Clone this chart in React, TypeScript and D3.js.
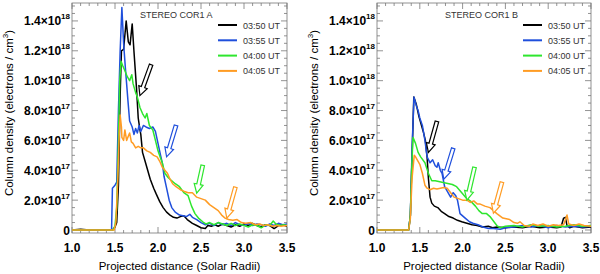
import React from "react";
import * as d3 from "d3";

// valores en unidades de 1e17 electrones / cm^2, x en radios solares
const times = ["03:50 UT", "03:55 UT", "04:00 UT", "04:05 UT"];
const colors = ["#000000", "#1f4fdc", "#2ee62e", "#ff9c24"];

const corA_0350 = [[1.0,0],[1.1,0.05],[1.2,0],[1.47,0],[1.50,0.2],[1.52,0.5],[1.54,3],[1.56,9],[1.575,12.0],[1.60,12.1],[1.63,14.0],[1.655,12.6],[1.675,12.4],[1.70,13.8],[1.72,12.0],[1.75,9.5],[1.77,7.5],[1.79,6.7],[1.80,6.4],[1.82,5.2],[1.85,4.6],[1.88,4.0],[1.91,3.4],[1.95,2.8],[1.98,2.4],[2.02,1.9],[2.06,1.5],[2.10,1.2],[2.14,1.0],[2.18,0.85],[2.22,0.8],[2.26,0.9],[2.30,0.95],[2.34,0.7],[2.40,0.45],[2.45,0.3],[2.50,0.15],[2.55,0.1],[2.58,0.3],[2.62,0.25],[2.66,0.35],[2.70,0.25],[2.75,0.4],[2.80,0.3],[2.85,0.2],[2.90,0.35],[2.95,0.25],[3.0,0.4],[3.05,0.3],[3.1,0.45],[3.15,0.3],[3.2,0.2],[3.25,0.35],[3.3,0.3],[3.35,0.1],[3.4,0.3],[3.45,0.35],[3.5,0.25]];
const corA_0355 = [[1.0,0],[1.2,0],[1.46,0],[1.47,2.8],[1.50,3.0],[1.52,3.2],[1.54,8],[1.56,12],[1.58,14.9],[1.60,12.5],[1.62,10.9],[1.65,8.7],[1.67,7.3],[1.70,6.9],[1.72,6.4],[1.74,6.8],[1.76,6.5],[1.78,7.0],[1.80,6.6],[1.83,7.0],[1.86,6.9],[1.90,6.8],[1.94,6.9],[1.97,6.6],[2.00,5.8],[2.03,5.0],[2.05,4.5],[2.07,3.6],[2.10,2.8],[2.13,2.0],[2.16,1.5],[2.20,1.2],[2.25,1.0],[2.29,0.95],[2.33,0.9],[2.37,1.05],[2.40,0.85],[2.45,0.7],[2.50,0.5],[2.55,0.35],[2.60,0.45],[2.65,0.3],[2.70,0.5],[2.75,0.35],[2.8,0.45],[2.85,0.3],[2.9,0.5],[2.95,0.35],[3.0,0.3],[3.05,0.45],[3.1,0.3],[3.15,0.4],[3.2,0.35],[3.25,0.25],[3.3,0.4],[3.35,0.3],[3.4,0.45],[3.45,0.35],[3.5,0.4]];
const corA_0400 = [[1.0,0],[1.2,0],[1.48,0],[1.50,0.3],[1.52,1.5],[1.54,6],[1.555,10],[1.57,11.3],[1.59,11.0],[1.62,10.6],[1.64,10.3],[1.67,10.0],[1.695,10.4],[1.71,9.8],[1.74,9.2],[1.76,8.9],[1.79,8.2],[1.82,7.8],[1.85,7.5],[1.87,7.8],[1.90,7.0],[1.94,6.7],[1.97,6.0],[2.00,5.3],[2.03,4.8],[2.05,4.5],[2.08,3.8],[2.12,3.5],[2.16,3.3],[2.20,3.1],[2.25,2.9],[2.30,2.5],[2.35,2.3],[2.39,1.6],[2.43,1.1],[2.47,0.8],[2.52,0.55],[2.56,0.4],[2.60,0.5],[2.65,0.35],[2.70,0.5],[2.75,0.4],[2.80,0.3],[2.85,0.45],[2.9,0.3],[2.95,0.4],[3.0,0.3],[3.05,0.2],[3.1,0.35],[3.15,0.3],[3.2,0.15],[3.25,0.35],[3.3,0.3],[3.34,0.6],[3.37,0.4],[3.42,0.3],[3.46,0.35],[3.5,0.3]];
const corA_0405 = [[1.0,0],[1.2,0],[1.49,0],[1.51,0.5],[1.53,3],[1.55,6.5],[1.56,7.7],[1.575,6.9],[1.58,6.2],[1.60,6.0],[1.615,6.7],[1.635,6.0],[1.67,6.5],[1.69,5.9],[1.71,5.8],[1.74,5.5],[1.77,5.6],[1.80,5.5],[1.83,5.5],[1.87,5.3],[1.91,5.2],[1.95,5.0],[1.99,4.9],[2.02,4.6],[2.05,4.2],[2.08,4.0],[2.11,3.8],[2.14,3.4],[2.17,3.1],[2.21,2.9],[2.26,2.7],[2.30,2.6],[2.35,2.5],[2.40,2.5],[2.45,2.2],[2.50,2.1],[2.55,2.0],[2.60,1.7],[2.65,1.5],[2.70,1.3],[2.74,1.0],[2.78,0.8],[2.82,0.7],[2.87,0.65],[2.92,0.7],[2.97,0.5],[3.02,0.45],[3.08,0.5],[3.13,0.35],[3.18,0.4],[3.23,0.3],[3.28,0.35],[3.33,0.25],[3.38,0.3],[3.43,0.25],[3.5,0.3]];

const corB_0350 = [[1.0,0],[1.2,0],[1.37,0],[1.39,1],[1.41,5],[1.43,8.9],[1.46,8.4],[1.49,7.6],[1.52,7.0],[1.54,6.6],[1.565,6.0],[1.585,4.9],[1.60,3.5],[1.62,2.2],[1.64,1.8],[1.67,1.6],[1.71,1.5],[1.75,1.25],[1.79,1.1],[1.84,0.9],[1.89,0.8],[1.94,0.65],[1.99,0.55],[2.05,0.45],[2.11,0.35],[2.17,0.3],[2.23,0.2],[2.3,0.25],[2.35,0.15],[2.4,0.2],[2.5,0.15],[2.6,0.2],[2.7,0.15],[2.8,0.25],[2.9,0.15],[3.0,0.2],[3.1,0.15],[3.15,0.2],[3.18,0.8],[3.2,0.85],[3.22,0.3],[3.25,0.15],[3.3,0.25],[3.4,0.15],[3.5,0.2]];
const corB_0355 = [[1.0,0],[1.37,0],[1.39,1],[1.41,5.5],[1.432,8.9],[1.46,8.3],[1.48,8.0],[1.50,7.5],[1.53,7.0],[1.56,6.0],[1.585,4.9],[1.62,4.5],[1.65,4.7],[1.68,4.3],[1.70,4.2],[1.715,4.5],[1.74,4.0],[1.76,3.8],[1.79,2.9],[1.83,2.5],[1.86,2.2],[1.89,2.5],[1.92,2.3],[1.94,2.0],[1.97,1.1],[2.03,0.8],[2.08,0.55],[2.12,0.45],[2.18,0.35],[2.24,0.2],[2.3,0.1],[2.36,0.1],[2.44,0.05],[2.5,0.15],[2.6,0.2],[2.7,0.3],[2.8,0.2],[2.9,0.3],[3.0,0.15],[3.1,0.3],[3.2,0.2],[3.3,0.25],[3.4,0.2],[3.5,0.25]];
const corB_0400 = [[1.0,0],[1.37,0],[1.39,1],[1.405,4],[1.42,6.2],[1.45,5.8],[1.48,5.2],[1.51,4.9],[1.56,4.5],[1.60,3.8],[1.64,3.3],[1.68,3.3],[1.72,3.25],[1.76,3.2],[1.80,3.15],[1.84,3.1],[1.88,3.05],[1.93,2.9],[1.99,2.5],[2.05,2.1],[2.10,1.9],[2.15,1.6],[2.19,1.3],[2.23,1.1],[2.28,1.1],[2.32,0.9],[2.36,0.6],[2.40,0.3],[2.44,0.15],[2.5,0.25],[2.6,0.3],[2.7,0.2],[2.8,0.35],[2.9,0.25],[3.0,0.3],[3.1,0.2],[3.2,0.25],[3.3,0.35],[3.4,0.25],[3.5,0.3]];
const corB_0405 = [[1.0,0],[1.37,0],[1.39,0.8],[1.41,3.5],[1.435,5.0],[1.45,4.9],[1.48,4.6],[1.50,4.4],[1.53,3.8],[1.56,3.0],[1.585,2.8],[1.62,2.7],[1.66,2.8],[1.70,2.75],[1.74,2.8],[1.78,2.85],[1.82,2.8],[1.86,2.5],[1.90,2.2],[1.95,2.1],[2.0,2.0],[2.05,2.0],[2.09,1.85],[2.13,1.95],[2.17,1.75],[2.2,1.75],[2.26,1.6],[2.32,1.5],[2.36,1.3],[2.40,1.1],[2.47,0.8],[2.55,0.7],[2.60,0.5],[2.64,0.45],[2.67,0.55],[2.72,0.3],[2.78,0.25],[2.82,0.4],[2.88,0.3],[2.94,0.4],[3.0,0.25],[3.06,0.35],[3.12,0.3],[3.18,0.35],[3.22,1.0],[3.24,0.4],[3.3,0.3],[3.36,0.4],[3.42,0.3],[3.5,0.25]];

// flechas: [x cola, y cola, x punta, y punta] en coordenadas de datos
const arrowsA = [[1.92,11.07,1.79,9.0],[2.21,7.0,2.10,4.9],[2.52,4.33,2.45,2.47],[2.90,2.87,2.80,0.8]];
const arrowsB = [[1.70,7.27,1.60,5.2],[1.89,5.47,1.78,3.4],[2.14,4.2,2.05,2.0],[2.46,3.2,2.36,1.13]];

const yTicks = [0, 2, 4, 6, 8, 10, 12, 14];
const yTickMant = ["0", "2.0", "4.0", "6.0", "8.0", "1.0", "1.2", "1.4"];
const yTickExp = ["", "17", "17", "17", "17", "18", "18", "18"];
const xTicks = [1.0, 1.5, 2.0, 2.5, 3.0, 3.5];

const W = 600, H = 274;
const font = "'Liberation Sans', Arial, sans-serif";

const Panel = ({ left, right, title, series, arrows }) => {
  const top = 3, bottom = 233;
  const x = d3.scaleLinear().domain([1.0, 3.5]).range([left, right]);
  const y = d3.scaleLinear().domain([-0.2, 15.2]).range([bottom, top]);
  const line = d3.line().x((d) => x(d[0])).y((d) => y(d[1]));
  const minorX = d3.range(10, 36).map((v) => v / 10);
  const minorY = d3.range(0, 31).map((v) => v / 2);
  const tickCol = "#777";

  const arrowPath = (a) => {
    const t = [x(a[0]), y(a[1])];
    const p = [x(a[2]), y(a[3])];
    const dx = p[0] - t[0], dy = p[1] - t[1];
    const L = Math.hypot(dx, dy);
    const ux = dx / L, uy = dy / L;
    const nx = -uy, ny = ux;
    const h = 9, hw = 4.5, sw = 1.8;
    const bx = p[0] - ux * h, by = p[1] - uy * h;
    const pts = [
      [t[0] + nx * sw, t[1] + ny * sw],
      [bx + nx * sw, by + ny * sw],
      [bx + nx * hw, by + ny * hw],
      p,
      [bx - nx * hw, by - ny * hw],
      [bx - nx * sw, by - ny * sw],
      [t[0] - nx * sw, t[1] - ny * sw],
    ];
    return "M" + pts.map((q) => q[0].toFixed(1) + "," + q[1].toFixed(1)).join("L") + "Z";
  };

  return (
    <g>
      <defs>
        <clipPath id={"clip" + left}>
          <rect x={left} y={top} width={right - left} height={bottom - top} />
        </clipPath>
      </defs>
      {/* ticks menores y mayores */}
      {minorX.map((v) => {
        const major = Math.abs(v * 2 - Math.round(v * 2)) < 1e-6;
        const len = major ? 6 : 3;
        return (
          <g key={"mx" + v} stroke={tickCol} strokeWidth={0.8}>
            <line x1={x(v)} x2={x(v)} y1={bottom} y2={bottom - len} />
            <line x1={x(v)} x2={x(v)} y1={top} y2={top + len} />
          </g>
        );
      })}
      {minorY.map((v) => {
        const major = v % 2 === 0;
        const len = major ? 6 : 3;
        return (
          <g key={"my" + v} stroke={tickCol} strokeWidth={0.8}>
            <line x1={left} x2={left + len} y1={y(v)} y2={y(v)} />
            <line x1={right} x2={right - len} y1={y(v)} y2={y(v)} />
          </g>
        );
      })}
      <rect x={left} y={top} width={right - left} height={bottom - top} fill="none" stroke={tickCol} strokeWidth={0.8} />

      <g clipPath={`url(#clip${left})`}>
        {series.map((s, i) => (
          <path key={i} d={line(s)} fill="none" stroke={colors[i]} strokeWidth={1.5} strokeLinejoin="round" />
        ))}
        {arrows.map((a, i) => (
          <path key={"a" + i} d={arrowPath(a)} fill="white" stroke={colors[i]} strokeWidth={1.2} strokeLinejoin="miter" />
        ))}
      </g>

      {/* etiquetas de los ejes */}
      {yTicks.map((v, i) => (
        <text key={"yt" + v} x={left - 2} y={y(v) + 4.5} textAnchor="end" fontFamily={font} fontWeight="bold" fontSize={12} fill="#000">
          {i === 0 ? (
            "0"
          ) : (
            <>
              {yTickMant[i] + "×10"}
              <tspan fontSize={8} dy={-6}>{yTickExp[i]}</tspan>
            </>
          )}
        </text>
      ))}
      {xTicks.map((v) => (
        <text key={"xt" + v} x={x(v)} y={252} textAnchor="middle" fontFamily={font} fontWeight="bold" fontSize={12} fill="#000">
          {v.toFixed(1)}
        </text>
      ))}
      <text x={(left + right) / 2} y={270} textAnchor="middle" fontFamily={font} fontSize={11.5} fill="#000">
        Projected distance (Solar Radii)
      </text>
      <text transform={`translate(${left - 59},${113}) rotate(-90)`} textAnchor="middle" fontFamily={font} fontSize={11.5} fill="#000">
        Column density (electrons / cm<tspan fontSize={8} dy={-5}>3</tspan><tspan dy={5}>)</tspan>
      </text>

      {/* titulo y leyenda */}
      <text x={left + 68} y={18} fontFamily={font} fontSize={9} fill="#333">{title}</text>
      {times.map((t, i) => (
        <g key={t}>
          <line x1={left + 146} x2={left + 165} y1={25 + i * 15.3} y2={25 + i * 15.3} stroke={colors[i]} strokeWidth={2} />
          <text x={left + 171} y={28.5 + i * 15.3} fontFamily={font} fontSize={9} fill="#333">{t}</text>
        </g>
      ))}
    </g>
  );
};

export default function App() {
  return (
    <svg width={W} height={H} style={{ position: "absolute", left: 0, top: 0, background: "#fff" }}>
      <Panel left={72} right={287} title="STEREO COR1 A" series={[corA_0350, corA_0355, corA_0400, corA_0405]} arrows={arrowsA} />
      <Panel left={377} right={591} title="STEREO COR1 B" series={[corB_0350, corB_0355, corB_0400, corB_0405]} arrows={arrowsB} />
    </svg>
  );
}
